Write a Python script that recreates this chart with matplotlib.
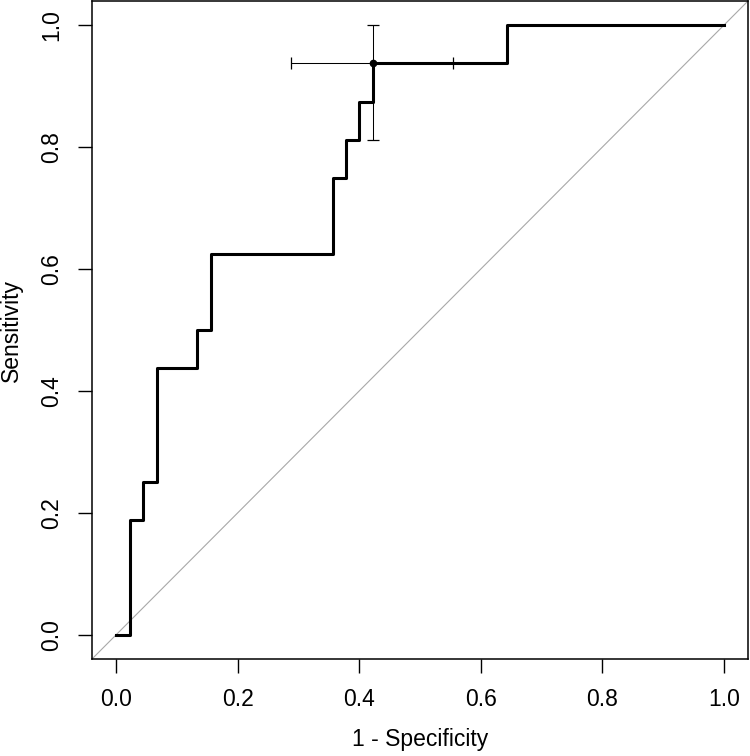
import numpy as np
import matplotlib.pyplot as plt

plt.rcParams['font.family'] = ['Liberation Sans', 'DejaVu Sans']

# ROC curve corners (1 - specificity, sensitivity)
fpr = [0.0, 0.022, 0.044, 0.067, 0.133, 0.156, 0.356, 0.378, 0.400, 0.422, 0.644, 1.0]
tpr = [0.0, 0.1875, 0.25, 0.4375, 0.5, 0.625, 0.75, 0.8125, 0.875, 0.9375, 1.0, 1.0]

# best threshold point with its confidence intervals
pt_x, pt_y = 0.422, 0.9375
ci_x = [0.287, 0.555]
ci_y = [0.8125, 1.0]

ticks = [0.0, 0.2, 0.4, 0.6, 0.8, 1.0]
tick_labels = ["0.0", "0.2", "0.4", "0.6", "0.8", "1.0"]

fig = plt.figure(figsize=(7.5, 7.56), dpi=100)
ax = fig.add_axes([92 / 750, 1 - 659 / 756, 656 / 750, 658 / 756])

# diagonal reference line
ax.axline((0, 0), slope=1, color="#a8a8a8", linewidth=0.8, zorder=1)

# ROC curve
ax.plot(fpr, tpr, drawstyle="steps-post", color="black", linewidth=2.2, zorder=3)

# CI bars around the point
ax.errorbar([pt_x], [pt_y],
            xerr=[[pt_x - ci_x[0]], [ci_x[1] - pt_x]],
            yerr=[[pt_y - ci_y[0]], [ci_y[1] - pt_y]],
            fmt="o", color="black", markersize=4.5, elinewidth=0.75,
            capsize=4.5, capthick=0.9, zorder=4)

ax.set_xlim(-0.04, 1.04)
ax.set_ylim(-0.04, 1.04)
ax.set_xticks(ticks)
ax.set_xticklabels(tick_labels)
ax.set_yticks(ticks)
ax.set_yticklabels(tick_labels)
ax.tick_params(axis="both", length=10, width=1.0, labelsize=16.5, pad=11)
plt.setp(ax.get_yticklabels(), rotation=90, va="center")

for s in ax.spines.values():
    s.set_linewidth(1.1)

ax.set_xlabel("1 - Specificity", fontsize=16.5)
ax.set_ylabel("Sensitivity", fontsize=16.5)
ax.xaxis.set_label_coords(0.5, -0.123)
ax.xaxis.label.set_va("center")
ax.yaxis.set_label_coords(-0.122, 0.5)
ax.yaxis.label.set_va("center")

plt.savefig("out.png", dpi=100)
plt.close()
